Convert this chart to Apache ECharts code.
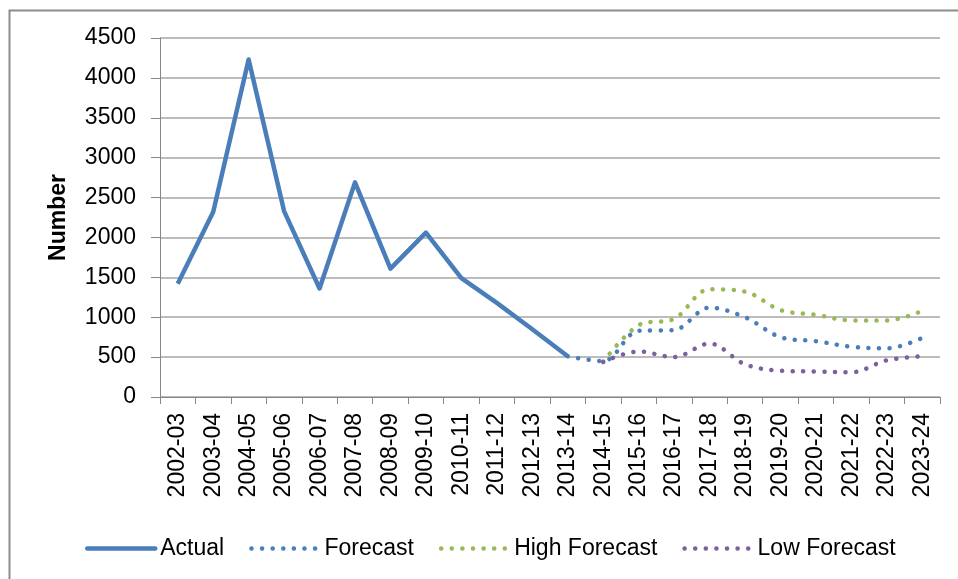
<!DOCTYPE html>
<html>
<head>
<meta charset="utf-8">
<script src="https://cdn.jsdelivr.net/npm/echarts@6/dist/echarts.min.js"></script>
<style>
  html, body { margin: 0; padding: 0; background: #fff; }
  #chart { width: 958px; height: 579px; }
</style>
</head>
<body>
<div id="chart"></div>
<script>
  let years = ['2002-03', '2003-04', '2004-05', '2005-06', '2006-07', '2007-08', '2008-09', '2009-10', '2010-11', '2011-12', '2012-13',
    '2013-14', '2014-15', '2015-16', '2016-17', '2017-18', '2018-19', '2019-20', '2020-21', '2021-22', '2022-23', '2023-24']
  let actual = [1420, 2320, 4230, 2330, 1360, 2690, 1610, 2060, 1490, 1180, 850, 510,
    null, null, null, null, null, null, null, null, null, null]
  let forecast = [null, null, null, null, null, null, null, null, null, null, null, 510,
    450, 830, 840, 1120, 1000, 750, 700, 630, 610, 740]
  let highForecast = [null, null, null, null, null, null, null, null, null, null, null, null,
    440, 900, 980, 1350, 1320, 1090, 1030, 960, 960, 1080]
  let lowForecast = [null, null, null, null, null, null, null, null, null, null, null, null,
    440, 570, 500, 670, 410, 330, 320, 310, 460, 510]

  let font = 'Liberation Sans, Arial, sans-serif'
  let dots = [0.1, 10.5]

  let chart = echarts.init(document.getElementById('chart'))

  function dottedSeries(name, data, color) {
    return {
      name: name,
      type: 'line',
      data: data,
      smooth: 0.35,
      symbol: 'none',
      connectNulls: false,
      lineStyle: {color: color, width: 4.5, type: dots, cap: 'round'},
      itemStyle: {color: color}
    }
  }

  let option = {
    animation: false,
    textStyle: {fontFamily: font},
    graphic: [{
      type: 'rect',
      left: 7,
      top: 8,
      shape: {width: 1000, height: 1000},
      style: {fill: 'none', stroke: '#8c8c8c', lineWidth: 2}
    }],
    grid: {left: 160, right: 18, top: 38, bottom: 182},
    legend: {
      left: 80,
      top: 532,
      itemWidth: 68,
      itemHeight: 14,
      itemGap: 25,
      itemStyle: {opacity: 0},
      lineStyle: {width: 4.5, cap: 'round'},
      textStyle: {fontSize: 23, color: '#000', fontFamily: font},
      data: ['Actual', 'Forecast', 'High Forecast', 'Low Forecast']
    },
    xAxis: {
      type: 'category',
      data: years,
      boundaryGap: true,
      axisLine: {lineStyle: {color: '#868686', width: 1}},
      axisTick: {show: true, length: 7, lineStyle: {color: '#868686'}},
      axisLabel: {rotate: 90, interval: 0, fontSize: 23, color: '#000', margin: 16, fontFamily: font}
    },
    yAxis: {
      type: 'value',
      min: 0,
      max: 4500,
      interval: 500,
      name: 'Number',
      nameLocation: 'middle',
      nameGap: 90,
      nameTextStyle: {fontSize: 23, fontWeight: 'bold', color: '#000', fontFamily: font},
      axisLine: {show: true, lineStyle: {color: '#868686'}},
      axisTick: {show: true, length: 9, lineStyle: {color: '#868686'}},
      axisLabel: {
        fontSize: 23,
        color: '#000',
        margin: 24,
        fontFamily: font,
        formatter: function(value) {
          return String(value)
        }
      },
      splitLine: {lineStyle: {color: '#a6a6a6', width: 1.5}}
    },
    series: [
      {
        name: 'Actual',
        type: 'line',
        data: actual,
        symbol: 'none',
        lineStyle: {color: '#4a7ebb', width: 4.5, join: 'round'},
        itemStyle: {color: '#4a7ebb'}
      },
      dottedSeries('Forecast', forecast, '#4a7ebb'),
      dottedSeries('High Forecast', highForecast, '#98b954'),
      dottedSeries('Low Forecast', lowForecast, '#7d5fa0')
    ]
  }
  chart.setOption(option)
</script>
</body>
</html>
